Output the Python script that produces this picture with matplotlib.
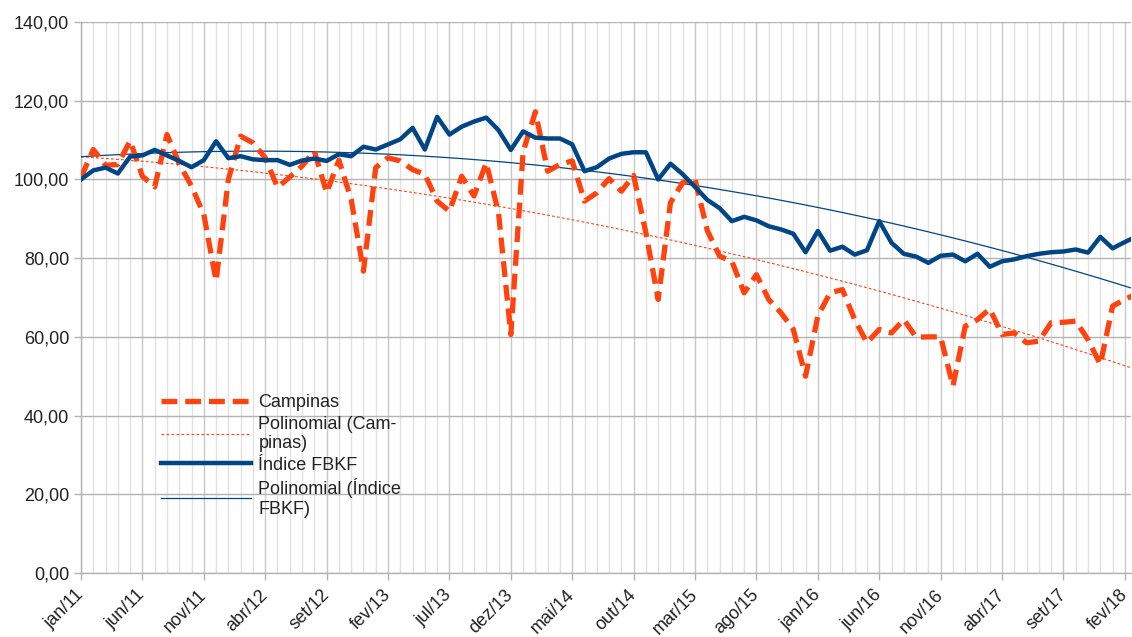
import numpy as np
import matplotlib
matplotlib.use("Agg")
import matplotlib.pyplot as plt
from matplotlib.ticker import MultipleLocator, FuncFormatter

plt.rcParams['font.family'] = ['Liberation Sans', 'DejaVu Sans']

# monthly series, jan/11 .. mar/18
campinas = [
    100.5, 107.6, 103.6, 103.8, 109.8, 100.8, 98.1, 111.4, 104.0, 98.3,
    91.1, 74.2, 100.0, 111.0, 109.3, 105.5, 98.0, 100.6, 103.4, 107.2,
    96.6, 104.9, 94.9, 76.7, 103.0, 105.5, 104.7, 102.5, 101.3, 94.5,
    91.9, 100.8, 95.8, 104.2, 91.5, 60.6, 107.0, 117.2, 102.1, 103.8,
    104.7, 94.5, 96.6, 100.2, 97.0, 101.0, 86.4, 69.5, 94.1, 99.2,
    100.0, 87.0, 80.5, 79.2, 71.2, 75.8, 69.5, 66.1, 61.9, 50.0,
    65.3, 71.2, 72.0, 64.4, 58.5, 61.9, 61.0, 64.4, 59.9, 60.0,
    60.0, 47.5, 62.7, 64.4, 67.1, 60.6, 61.0, 58.5, 58.9, 63.6,
    63.7, 64.0, 59.3, 53.0, 67.8, 69.5, 71.0,
]
indice_fbkf = [
    100.0, 102.3, 103.0, 101.5, 105.8, 106.1, 107.5, 106.1, 104.7, 103.1,
    104.9, 109.7, 105.4, 105.9, 105.1, 104.9, 104.9, 103.7, 104.8, 105.3,
    104.7, 106.4, 105.9, 108.3, 107.6, 108.9, 110.2, 113.1, 107.6, 115.9,
    111.4, 113.4, 114.7, 115.7, 112.5, 107.5, 112.2, 110.6, 110.4, 110.4,
    108.9, 102.1, 103.1, 105.3, 106.5, 106.9, 106.9, 100.0, 104.0, 101.3,
    98.1, 94.8, 92.7, 89.4, 90.5, 89.6, 88.1, 87.3, 86.2, 81.5,
    86.9, 81.9, 82.9, 80.9, 82.0, 89.4, 83.9, 81.1, 80.4, 78.8,
    80.6, 80.9, 79.2, 81.1, 77.8, 79.2, 79.7, 80.5, 81.1, 81.5,
    81.7, 82.2, 81.4, 85.4, 82.5, 84.1, 85.6,
]
months_pt = ['jan', 'fev', 'mar', 'abr', 'mai', 'jun',
             'jul', 'ago', 'set', 'out', 'nov', 'dez']
labels = [f"{months_pt[k % 12]}/{11 + k // 12}" for k in range(len(campinas))]

x = np.arange(len(campinas))
campinas = np.array(campinas)
indice_fbkf = np.array(indice_fbkf)

# polynomial (2nd order) trend lines
trend_c = np.polyval(np.polyfit(x, campinas, 2), x)
trend_i = np.polyval(np.polyfit(x, indice_fbkf, 2), x)

orange = '#ff420e'
blue = '#004586'
grid_c = '#b3b3b3'

fig = plt.figure(figsize=(11.32, 6.37), dpi=100)
ax = fig.add_axes([81 / 1132, 1 - 573 / 637, 1050 / 1132, 551 / 637])

ax.plot(x, campinas, color=orange, lw=3.8, dashes=(3, 1.5), label='Campinas', zorder=4)
ax.plot(x, trend_c, color=orange, lw=0.8, dashes=(2.5, 2), label='Polinomial (Cam-\npinas)', zorder=3)
ax.plot(x, indice_fbkf, color=blue, lw=3.2, label='Índice FBKF', zorder=5)
ax.plot(x, trend_i, color=blue, lw=0.9, label='Polinomial (Índice\nFBKF)', zorder=3)

ax.set_xlim(0, 85.5)
ax.set_ylim(0, 140)
ax.yaxis.set_major_locator(MultipleLocator(20))
ax.yaxis.set_major_formatter(FuncFormatter(lambda v, p: f"{v:.2f}".replace('.', ',')))

ax.set_xticks(x[:86:5])
ax.set_xticklabels(labels[:86:5], rotation=45, ha='right', va='center', rotation_mode='anchor')
ax.set_xticks(x[:86], minor=True)

ax.grid(axis='y', color=grid_c, lw=1.0, zorder=0)
ax.grid(axis='x', which='major', color='#c8c8c8', lw=1.0, zorder=0)
ax.grid(axis='x', which='minor', color='#e2e2e2', lw=1.0, zorder=0)
ax.set_axisbelow(True)

for s in ['top', 'right']:
    ax.spines[s].set_visible(False)
for s in ['left', 'bottom']:
    ax.spines[s].set_color(grid_c)
    ax.spines[s].set_linewidth(1.0)

ax.tick_params(axis='both', which='major', labelsize=13, colors=grid_c,
               labelcolor='#222222', length=5, width=1)
ax.tick_params(axis='x', which='minor', length=0)
ax.tick_params(axis='x', pad=9)

leg = ax.legend(loc='upper left', bbox_to_anchor=(161 / 1132, 1 - 394 / 637),
                bbox_transform=fig.transFigure, frameon=False, fontsize=13,
                handlelength=5.0, handletextpad=0.4, labelspacing=0.25,
                borderpad=0, borderaxespad=0)
for t in leg.get_texts():
    t.set_linespacing(1.2)
    t.set_color('#222222')

fig.savefig('out.png', dpi=100)
